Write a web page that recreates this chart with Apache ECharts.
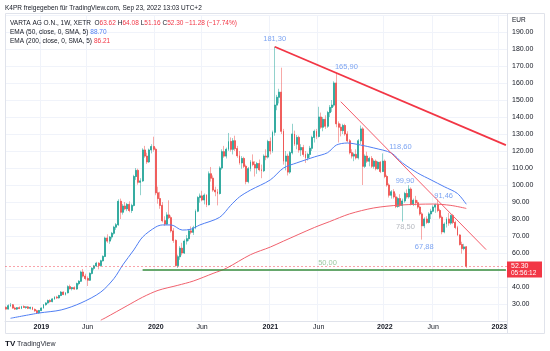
<!DOCTYPE html>
<html>
<head>
<meta charset="utf-8">
<title>VARTA AG 1W</title>
<script src="https://cdn.jsdelivr.net/npm/echarts@6/dist/echarts.min.js"></script>
<style>
  html, body { margin: 0; padding: 0; background: #fff; }
  #chart { width: 550px; height: 351px; }
</style>
</head>
<body>
<div id="chart"></div>
<script>
const startWeek = '2018-09-17'
const weekCount = 228 // weekly slots incl. empty future weeks on the right

// weekly candles [open, high, low, close], one row per week from startWeek
const ohlc = [
  [28.0, 28.6, 26.8, 27.0], [27.0, 29.8, 26.8, 29.0], [29.0, 30.6, 28.2, 29.5], [29.5, 30.0, 27.2, 27.6],
  [27.6, 28.4, 26.6, 27.0], [27.0, 28.2, 26.5, 27.8], [27.8, 28.6, 27.0, 27.4], [27.4, 28.9, 27.0, 28.5],
  [28.5, 29.2, 27.8, 28.0], [28.0, 28.6, 27.2, 28.3], [28.3, 28.8, 27.0, 27.5], [27.5, 28.4, 26.8, 28.0],
  [28.0, 28.4, 26.4, 26.8], [26.8, 27.4, 25.4, 26.0], [26.0, 26.6, 24.2, 24.8], [24.8, 26.5, 24.4, 26.2],
  [26.2, 28.0, 25.8, 27.6], [27.6, 30.0, 27.2, 29.6], [29.6, 31.0, 29.0, 30.6], [30.6, 32.6, 30.2, 32.0],
  [32.0, 32.8, 30.8, 31.4], [31.4, 33.4, 31.0, 33.0], [33.0, 34.6, 32.4, 34.0], [34.0, 34.8, 33.0, 33.6],
  [33.6, 35.4, 33.2, 35.0], [35.0, 37.6, 34.6, 37.0], [37.0, 37.4, 35.2, 35.6], [35.6, 37.0, 35.0, 36.6],
  [36.6, 41.0, 36.2, 40.2], [40.2, 41.4, 38.6, 39.0], [39.0, 40.0, 38.0, 39.6], [39.6, 40.4, 38.4, 38.8],
  [38.8, 42.6, 38.4, 42.0], [42.0, 44.0, 41.0, 43.4], [43.4, 49.6, 43.0, 48.8], [48.8, 50.6, 45.6, 46.4],
  [46.4, 47.8, 44.0, 45.0], [45.0, 46.2, 40.6, 44.0], [44.0, 48.6, 43.6, 48.0], [48.0, 51.6, 47.4, 51.0],
  [51.0, 53.0, 49.8, 52.4], [52.4, 54.8, 51.8, 54.0], [54.0, 54.6, 50.4, 52.6], [52.6, 56.0, 52.0, 55.4],
  [55.4, 58.6, 55.0, 58.0], [58.0, 69.6, 57.6, 68.8], [68.8, 71.0, 66.0, 67.0], [67.0, 70.0, 65.4, 69.4],
  [69.4, 72.4, 68.0, 71.6], [71.6, 76.0, 70.8, 75.2], [75.2, 77.6, 73.6, 76.6], [76.6, 91.6, 76.0, 90.4],
  [90.4, 92.0, 80.0, 84.0], [84.0, 88.8, 82.6, 87.6], [87.6, 90.0, 85.2, 86.0], [86.0, 89.4, 84.6, 88.6],
  [88.6, 90.4, 84.0, 85.0], [85.0, 89.0, 83.6, 88.0], [88.0, 106.0, 87.4, 105.0], [105.0, 110.0, 103.0, 108.6],
  [108.6, 109.6, 100.2, 101.6], [101.6, 104.0, 94.0, 102.4], [102.4, 121.6, 101.8, 120.6], [120.6, 123.0, 116.0, 117.0],
  [117.0, 119.0, 112.4, 113.6], [113.6, 121.4, 113.0, 120.6], [120.6, 124.0, 118.6, 122.6], [122.6, 128.4, 119.6, 121.0],
  [121.0, 122.0, 94.0, 95.4], [95.4, 99.0, 89.0, 92.0], [92.0, 96.0, 86.0, 88.0], [88.0, 90.0, 78.0, 79.0],
  [79.0, 81.6, 76.0, 77.0], [77.0, 84.0, 76.4, 82.4], [82.4, 91.0, 80.0, 80.8], [80.8, 82.0, 72.0, 73.0],
  [73.0, 74.6, 66.0, 67.4], [67.4, 68.0, 52.0, 52.6], [52.6, 59.0, 51.2, 57.8], [57.8, 64.0, 56.0, 62.8],
  [62.8, 66.0, 58.6, 60.0], [60.0, 68.0, 59.4, 67.0], [67.0, 70.6, 65.0, 68.4], [68.4, 74.0, 67.0, 73.0],
  [73.0, 75.6, 71.0, 72.2], [72.2, 76.0, 70.6, 74.8], [74.8, 85.6, 74.0, 84.6], [84.6, 93.4, 84.0, 92.6],
  [92.6, 95.0, 89.6, 93.6], [93.6, 96.6, 90.4, 91.2], [91.2, 95.0, 88.6, 94.0], [94.0, 94.6, 87.0, 88.4],
  [88.4, 108.0, 88.0, 106.6], [106.6, 110.6, 102.0, 104.0], [104.0, 105.6, 96.0, 97.0], [97.0, 99.0, 93.4, 96.0],
  [96.0, 97.6, 88.0, 95.0], [95.0, 111.0, 94.4, 110.0], [110.0, 121.0, 109.0, 119.6], [119.6, 123.0, 116.0, 117.0],
  [117.0, 122.0, 115.6, 121.0], [121.0, 130.6, 120.0, 125.6], [125.6, 128.0, 119.6, 121.0], [121.0, 127.6, 118.0, 126.0],
  [126.0, 129.0, 120.0, 121.4], [121.4, 123.0, 116.0, 117.2], [117.2, 120.0, 112.0, 113.0], [113.0, 117.0, 109.6, 115.6],
  [115.6, 116.6, 110.0, 111.0], [111.0, 112.0, 100.4, 102.0], [102.0, 110.6, 101.0, 109.6], [109.6, 114.6, 108.0, 113.6],
  [113.6, 118.0, 111.0, 112.0], [112.0, 114.0, 105.0, 110.0], [110.0, 113.6, 106.6, 112.6], [112.6, 115.0, 108.0, 109.0],
  [109.0, 112.0, 104.0, 108.4], [108.4, 118.0, 107.6, 117.0], [117.0, 121.0, 114.6, 116.4], [116.4, 126.6, 115.6, 125.6],
  [125.6, 128.0, 118.0, 120.0], [120.0, 132.0, 119.0, 131.0], [131.0, 181.3, 129.0, 147.0], [147.0, 153.0, 144.0, 151.6],
  [151.6, 156.6, 148.0, 154.6], [154.6, 169.0, 130.0, 131.6], [131.6, 133.0, 112.0, 114.0], [114.0, 120.0, 108.6, 117.0],
  [117.0, 118.4, 105.6, 107.6], [107.6, 120.0, 106.6, 119.0], [119.0, 136.0, 118.0, 130.0], [130.0, 132.0, 123.0, 124.0],
  [124.0, 129.4, 121.0, 128.0], [128.0, 129.0, 119.0, 120.6], [120.6, 124.0, 117.0, 122.0], [122.0, 123.6, 116.6, 118.0],
  [118.0, 120.0, 113.0, 116.0], [116.0, 119.0, 114.4, 118.0], [118.0, 123.0, 116.0, 121.6], [121.6, 129.0, 120.0, 128.0],
  [128.0, 132.6, 125.0, 131.6], [131.6, 133.0, 127.0, 128.6], [128.6, 146.0, 128.0, 140.0], [140.0, 142.6, 133.0, 134.0],
  [134.0, 140.0, 131.6, 138.6], [138.6, 141.0, 133.0, 134.6], [134.6, 143.6, 133.6, 142.6], [142.6, 147.0, 140.0, 145.6],
  [145.6, 150.0, 143.0, 147.0], [147.0, 161.0, 146.0, 160.0], [160.0, 165.9, 134.0, 136.0], [136.0, 137.4, 125.0, 134.0],
  [134.0, 136.0, 128.6, 132.0], [132.0, 136.0, 130.0, 135.0], [135.0, 136.0, 129.0, 130.0], [130.0, 131.6, 125.0, 126.0],
  [126.0, 127.0, 118.0, 119.0], [119.0, 121.0, 115.6, 117.0], [117.0, 119.0, 114.0, 118.0], [118.0, 121.0, 115.0, 116.0],
  [116.0, 127.0, 115.0, 126.0], [126.0, 135.0, 124.0, 133.0], [133.0, 134.0, 100.0, 111.0], [111.0, 118.0, 110.0, 117.0],
  [117.0, 119.6, 113.0, 114.0], [114.0, 116.6, 111.0, 115.6], [115.6, 117.0, 110.0, 111.0], [111.0, 115.0, 109.6, 114.0],
  [114.0, 115.0, 108.6, 109.6], [109.6, 114.0, 109.0, 113.4], [113.4, 114.0, 107.0, 108.0], [108.0, 118.6, 107.6, 114.0],
  [114.0, 115.0, 104.0, 105.0], [105.0, 106.0, 99.0, 100.0], [100.0, 101.0, 92.6, 94.0], [94.0, 97.0, 92.0, 96.0],
  [96.0, 97.6, 92.0, 93.0], [93.0, 95.0, 86.4, 87.4], [87.4, 93.0, 86.6, 92.0], [92.0, 94.6, 87.0, 88.0],
  [88.0, 92.0, 78.5, 90.6], [90.6, 96.0, 89.6, 95.0], [95.0, 97.4, 92.0, 93.0], [93.0, 99.9, 92.0, 97.6],
  [97.6, 98.6, 88.0, 89.0], [89.0, 92.0, 87.6, 91.0], [91.0, 93.6, 88.0, 89.6], [89.6, 91.0, 86.0, 87.0],
  [87.0, 88.0, 82.0, 83.0], [83.0, 84.0, 67.88, 76.0], [76.0, 81.0, 74.6, 80.0], [80.0, 81.6, 77.0, 78.0],
  [78.0, 84.0, 77.4, 83.0], [83.0, 86.0, 80.0, 84.6], [84.6, 88.0, 84.0, 87.0], [87.0, 89.0, 83.6, 88.4],
  [88.4, 91.46, 84.0, 85.0], [85.0, 86.0, 80.0, 81.0], [81.0, 82.0, 71.0, 72.4], [72.4, 78.0, 71.6, 77.0],
  [77.0, 81.0, 75.0, 80.0], [80.0, 83.6, 76.0, 77.6], [77.6, 82.6, 76.6, 82.0], [82.0, 83.0, 77.0, 78.0],
  [78.0, 79.0, 74.0, 75.0], [75.0, 76.0, 70.0, 70.6], [70.6, 71.0, 64.4, 65.0], [65.0, 66.6, 59.6, 62.6],
  [62.6, 65.4, 61.6, 63.58], [63.62, 64.08, 51.16, 52.30]
]

// EMA lines, [week, value]
const ema50 = [
  ['2018-10-01', 21.6], ['2018-12-31', 24.7], ['2019-03-11', 26.5], ['2019-05-13', 30.6], ['2019-07-15', 37.0],
  ['2019-08-26', 45.0], ['2019-09-23', 53.0], ['2019-10-28', 61.8], ['2019-11-25', 69.4], ['2020-01-06', 75.3],
  ['2020-01-27', 76.5], ['2020-02-24', 76.5], ['2020-03-30', 73.5], ['2020-04-27', 74.0], ['2020-05-25', 76.5],
  ['2020-07-27', 81.0], ['2020-08-31', 88.0], ['2020-09-28', 93.0], ['2020-11-02', 97.0], ['2021-01-04', 103.0],
  ['2021-02-15', 110.0], ['2021-03-29', 113.0], ['2021-05-24', 116.5], ['2021-07-05', 119.0], ['2021-08-02', 123.5],
  ['2021-09-06', 124.7], ['2021-10-18', 123.5], ['2021-11-29', 121.8], ['2022-01-24', 118.8], ['2022-02-28', 113.0],
  ['2022-04-18', 107.0], ['2022-05-30', 103.0], ['2022-07-11', 99.0], ['2022-08-22', 95.0], ['2022-09-19', 88.70]
]
const ema200 = [
  ['2019-07-15', 20.5], ['2019-07-29', 21.8], ['2019-10-07', 29.0], ['2019-11-25', 34.0], ['2020-01-13', 38.0],
  ['2020-03-16', 41.0], ['2020-05-04', 43.5], ['2020-07-06', 48.0], ['2020-08-17', 51.0], ['2020-11-02', 59.0],
  ['2021-01-04', 63.5], ['2021-02-15', 67.0], ['2021-05-24', 75.0], ['2021-07-12', 78.5], ['2021-09-13', 83.0],
  ['2021-11-29', 86.5], ['2022-02-21', 88.2], ['2022-06-06', 88.8], ['2022-08-01', 88.0], ['2022-09-19', 86.21]
]

// drawn trend lines
const trendMajor = [['2021-01-18', 181.3], ['2023-01-23', 123.5]]
const trendMinor = [['2021-08-16', 149.0], ['2022-11-21', 62.0]]
const supportLine = [['2019-11-25', 50.0], ['2023-01-23', 50.0]]

// text notes: week, price, text, colour, label offset
const notes = [
  ['2021-01-18', 181.3, '181,30', '#5b8def', 0, -8],
  ['2021-08-02', 165.9, '165,90', '#5b8def', 10, -6],
  ['2022-02-28', 118.6, '118,60', '#5b8def', -2, -6],
  ['2022-03-21', 99.9, '99,90', '#5b8def', -4, -4],
  ['2022-06-20', 91.46, '91,46', '#5b8def', 6, -4],
  ['2022-02-28', 78.5, '78,50', '#a3a6af', 3, 5],
  ['2022-05-02', 67.88, '67,88', '#5b8def', 2, 7],
  ['2021-07-05', 50.0, '50,00', '#86b98a', 0, -7]
]

const font = '"Liberation Sans", Arial, sans-serif'
const upColor = '#26a69a'
const downColor = '#ef5350'
const weekMs = 7 * 864e5

let categories = []
for (let i = 0; i < weekCount; i++) {
  categories.push(new Date(Date.parse(startWeek) + i * weekMs).toISOString().slice(0, 10))
}
const toIdx = d => Math.round((Date.parse(d) - Date.parse(startWeek)) / weekMs)
const pts = arr => arr.map(p => [toIdx(p[0]), p[1]])
const monthOf = i => new Date(categories[i]).getUTCMonth()
// label years at the first week of January, plus "Jun"
const isMark = i => i > 0 && monthOf(i) !== monthOf(i - 1) && (monthOf(i) === 0 || monthOf(i) === 5)

const last = ohlc[ohlc.length - 1]
const prevClose = ohlc[ohlc.length - 2][3]
const chg = last[3] - prevClose
const pct = chg / prevClose * 100
const f2 = v => v.toFixed(2)
const sgn = v => (v < 0 ? '\u2212' : '+') + Math.abs(v).toFixed(2)

let chart = echarts.init(document.getElementById('chart'))

let option = {
  animation: false,
  grid: { left: 5, right: 43, top: 15, bottom: 30 },
  xAxis: {
    type: 'category',
    data: categories,
    boundaryGap: true,
    axisLine: { lineStyle: { color: '#e0e3eb' } },
    axisTick: { show: false },
    axisLabel: {
      interval: i => isMark(i),
      formatter: (v, i) => monthOf(i) === 0 ? '{y|' + v.slice(0, 4) + '}' : 'Jun',
      margin: 3,
      fontSize: 7,
      color: '#131722',
      fontFamily: font,
      rich: { y: { fontSize: 7, fontWeight: 'bold', color: '#131722', fontFamily: font } }
    },
    splitLine: { show: true, interval: i => isMark(i), lineStyle: { color: '#f0f3fa' } }
  },
  yAxis: {
    type: 'value',
    position: 'right',
    min: 20,
    max: 200,
    interval: 10,
    axisLine: { show: false },
    axisTick: { show: false },
    splitLine: { lineStyle: { color: '#f0f3fa' } },
    axisLabel: {
      margin: 5,
      fontSize: 7,
      color: '#131722',
      fontFamily: font,
      formatter: v => (v <= 20 || v >= 200) ? '' : v.toFixed(2)
    }
  },
  series: [
    {
      name: 'wicks',
      type: 'candlestick',
      barWidth: 1.4,
      z: 2,
      data: ohlc.map(r => [r[0], r[3], r[2], r[1]]),
      itemStyle: {
        color: 'rgba(38,166,154,0.5)', color0: 'rgba(239,83,80,0.5)',
        borderColor: 'rgba(38,166,154,0.5)', borderColor0: 'rgba(239,83,80,0.5)',
        borderWidth: 1
      },
      markLine: {
        silent: true,
        symbol: 'none',
        label: { show: false },
        lineStyle: { color: 'rgba(242,54,69,0.45)', type: [2, 2], width: 1 },
        data: [{ yAxis: last[3] }]
      }
    },
    {
      name: 'bodies',
      type: 'candlestick',
      barWidth: 1.4,
      z: 3,
      data: ohlc.map(r => [r[0], r[3], Math.min(r[0], r[3]), Math.max(r[0], r[3])]),
      itemStyle: { color: upColor, color0: downColor, borderColor: upColor, borderColor0: downColor, borderWidth: 0.6 }
    },
    {
      name: 'EMA 50', type: 'line', z: 4, smooth: 0.3, showSymbol: false,
      data: pts(ema50), lineStyle: { color: '#4f7ef3', width: 1 }
    },
    {
      name: 'EMA 200', type: 'line', z: 4, smooth: 0.3, showSymbol: false,
      data: pts(ema200), lineStyle: { color: '#f0616d', width: 1 }
    },
    {
      name: 'support', type: 'line', z: 4, showSymbol: false,
      data: pts(supportLine), lineStyle: { color: '#388e3c', width: 1.5 }
    },
    {
      name: 'trend major', type: 'line', z: 5, showSymbol: false,
      data: pts(trendMajor), lineStyle: { color: '#f23645', width: 1.8 }
    },
    {
      name: 'trend minor', type: 'line', z: 5, showSymbol: false,
      data: pts(trendMinor), lineStyle: { color: '#f45b69', width: 1 }
    },
    {
      name: 'notes', type: 'scatter', z: 6, symbolSize: 0, silent: true,
      label: { show: true, position: 'inside', fontSize: 7.5, fontFamily: font },
      data: notes.map(n => ({
        value: [toIdx(n[0]), n[1]],
        label: { formatter: n[2], color: n[3], offset: [n[4], n[5]] }
      }))
    }
  ]
}
chart.setOption(option)

// price tag sits on the last close
const tagY = chart.convertToPixel({ yAxisIndex: 0 }, last[3])
const txt = (x, y, text, extra, z) => ({
  type: 'text', x: x, y: y, z: z || 20, silent: true,
  style: Object.assign({ text: text, font: '7px ' + font, fill: '#131722', verticalAlign: 'middle' }, extra || {})
})
chart.setOption({
  graphic: [
    { type: 'rect', silent: true, z: 1, shape: { x: 5.5, y: 13.5, width: 539, height: 320 }, style: { fill: 'none', stroke: '#e0e3eb', lineWidth: 1 } },
    { type: 'line', silent: true, z: 1, shape: { x1: 507.5, y1: 13.5, x2: 507.5, y2: 333.5 }, style: { stroke: '#e0e3eb', lineWidth: 1 } },
    txt(5, 8, 'K4PR freigegeben f\u00fcr TradingView.com, Sep 23, 2022 13:03 UTC+2', { font: '6.5px ' + font }),
    txt(10, 23, '{k|VARTA AG O.N., 1W, XETR  O}{v|' + f2(last[0]) + '} {k|H}{v|' + f2(last[1]) + '} {k|L}{v|' + f2(last[2]) +
      '} {k|C}{v|' + f2(last[3]) + ' ' + sgn(chg) + ' (' + sgn(pct) + '%)}', {
      rich: {
        k: { font: '6.5px ' + font, fill: '#131722' },
        v: { font: '6.5px ' + font, fill: '#f23645' }
      }
    }),
    txt(10, 32, '{k|EMA (50, close, 0, SMA, 5)} {b|' + f2(ema50[ema50.length - 1][1]) + '}', {
      rich: { k: { font: '6.5px ' + font, fill: '#131722' }, b: { font: '6.5px ' + font, fill: '#4f7ef3' } }
    }),
    txt(10, 41, '{k|EMA (200, close, 0, SMA, 5)} {r|' + f2(ema200[ema200.length - 1][1]) + '}', {
      rich: { k: { font: '6.5px ' + font, fill: '#131722' }, r: { font: '6.5px ' + font, fill: '#f23645' } }
    }),
    txt(512, 20, 'EUR', { font: '6.5px ' + font }),
    { type: 'rect', silent: true, z: 30, shape: { x: 507, y: tagY - 4.5, width: 35, height: 16 }, style: { fill: '#f23645' } },
    txt(511, tagY, f2(last[3]), { fill: '#ffffff', font: '7px ' + font }, 31),
    txt(511, tagY + 7.5, '05:56:12', { fill: '#ffffff', font: '6.5px ' + font }, 31),
    txt(5, 344, 'TV', { font: 'bold 8px ' + font }),
    txt(17, 344, 'TradingView', { font: '7px ' + font, fill: '#2a2e39' })
  ]
})
</script>
</body>
</html>
